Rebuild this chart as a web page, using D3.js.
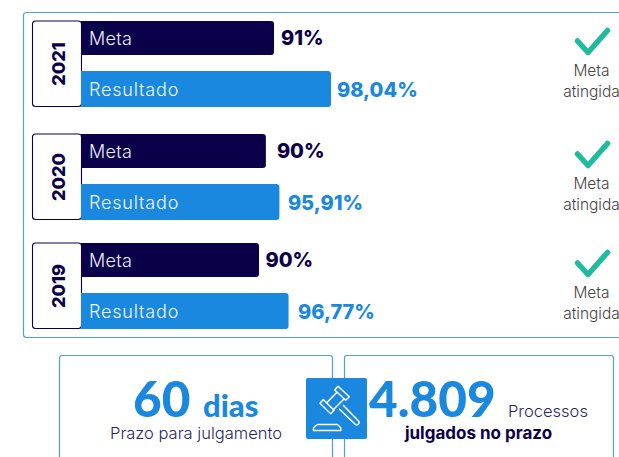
<!DOCTYPE html>
<html><head><meta charset="utf-8">
<script src="https://cdn.jsdelivr.net/npm/d3@7/dist/d3.min.js"></script>
<style>html,body{margin:0;padding:0;background:#fff;overflow:hidden}svg{display:block}text{font-family:Inter,"Open Sans",sans-serif}</style>
</head><body><svg id="c" width="619" height="457"></svg>
<script>
const years = ["2021","2020","2019"];
const metaLabels = ["91%","90%","90%"];
const resultLabels = ["98,04%","95,91%","96,77%"];
// Bar lengths, 0-100 scale: the source bars are not proportional to their labels.
const metaBars = [75.7,72.5,69.8];
const resultBars = [98.04,77.8,81.4];
const statusLines = ["Meta","atingida"];
const seriesNames = ["Meta","Resultado"];

const NAVY="#0a0049", BLUE="#1a88de", FRAME="#4f9fe0", GREEN="#1fbb9e";
const svg=d3.select("#c");
const x=d3.scaleLinear().domain([0,100]).range([81,336]);
const y=d3.scaleOrdinal().domain(years).range([21,134,243]);
// label gaps after each bar end, per row
const metaGap=d3.scaleOrdinal().domain(years).range([7,11,6.5]);
const resGap=d3.scaleOrdinal().domain(years).range([6,8.5,9.5]);

svg.append("rect").attr("x",23.5).attr("y",12.5).attr("width",640).attr("height",325).attr("rx",3).attr("fill","none").attr("stroke",FRAME).attr("stroke-width",1.2);

const rows=years.map((yr,i)=>({yr,meta:metaBars[i],res:resultBars[i],ml:metaLabels[i],rl:resultLabels[i]}));
const g=svg.selectAll("g.row").data(rows).join("g").attr("class","row").attr("transform",d=>`translate(0,${y(d.yr)})`);

g.append("rect").attr("x",32.5).attr("y",0).attr("width",49).attr("height",85.5).attr("rx",3).attr("fill","#fff").attr("stroke",NAVY).attr("stroke-width",1.1);
g.append("text").attr("transform","translate(65,43) rotate(-90)").attr("text-anchor","middle").attr("font-size",18).attr("font-weight",800).attr("fill",NAVY).text(d=>d.yr);

function bar(sel,w,h,fill){
  sel.append("path").attr("fill",fill).attr("d",d=>{
    const a=x(0),b=x(w(d)),r=3;
    return `M${a},0H${b-r}Q${b},0 ${b},${r}V${h-r}Q${b},${h} ${b-r},${h}H${a}Z`;
  });
}
const mg=g.append("g");
bar(mg,d=>d.meta,34,NAVY);
mg.append("text").attr("x",89).attr("y",24).attr("font-size",18).attr("font-weight",300).attr("letter-spacing",0.3).attr("fill","#eeeef8").text(seriesNames[0]);
mg.append("text").attr("x",d=>x(d.meta)+metaGap(d.yr)).attr("y",24).attr("font-size",20).attr("font-weight",800).attr("fill",NAVY).text(d=>d.ml);

const rg=g.append("g").attr("transform","translate(0,50)");
bar(rg,d=>d.res,36,BLUE);
rg.append("text").attr("x",89).attr("y",25).attr("font-size",18).attr("font-weight",300).attr("letter-spacing",0.8).attr("fill","#f0f7fd").text(seriesNames[1]);
rg.append("text").attr("x",d=>x(d.res)+resGap(d.yr)).attr("y",26).attr("font-size",20).attr("font-weight",800).attr("fill",BLUE).text(d=>d.rl);

g.append("path").attr("d","M577.5,20L588,31.5L607.5,9.5").attr("fill","none").attr("stroke",GREEN).attr("stroke-width",5.5).attr("stroke-linecap","round").attr("stroke-linejoin","round");
statusLines.forEach((t,i)=>g.append("text").attr("x",591.5).attr("y",55+i*21).attr("text-anchor","middle").attr("font-size",15.5).attr("font-weight",300).attr("fill","#444").text(t));

// bottom cards
svg.append("path").attr("d","M59.5,460V358Q59.5,355.5 62,355.5H330Q332.5,355.5 332.5,358V460").attr("fill","none").attr("stroke",FRAME).attr("stroke-width",1.2);
svg.append("path").attr("d","M344.5,460V358Q344.5,355.5 347,355.5H611Q613.5,355.5 613.5,358V460").attr("fill","none").attr("stroke",FRAME).attr("stroke-width",1.2);

const T=(x,y,s,fs,w,fill,anchor,ff)=>{const t=svg.append("text").attr("x",x).attr("y",y).attr("font-size",fs).attr("font-weight",w).attr("fill",fill).attr("text-anchor",anchor||"start").text(s); if(ff) t.style("font-family",ff); return t;};
T(133,417,"60",49.5,900,BLUE,"start","Lato");
T(203,417,"dias",31,900,BLUE,"start","Lato");
T(196,439,"Prazo para julgamento",16.5,300,"#2a2560","middle");
T(369,417,"4.809",49.5,900,BLUE,"start","Lato");
T(508,417,"Processos",16.5,300,"#2a2560");
T(478.5,439,"julgados no prazo",17,700,NAVY,"middle");

// gavel icon
svg.append("rect").attr("x",306).attr("y",378).attr("width",61).attr("height",61).attr("rx",2).attr("fill",BLUE);
const ic=svg.append("g").attr("fill","none").attr("stroke","#fff").attr("stroke-width",1.5).attr("stroke-linejoin","round").attr("stroke-linecap","round");
ic.append("path").attr("d","M334.7,390L338,386.3L349.3,396.7L345.7,400.3Z");
ic.append("path").attr("d","M320,403.3L323.3,399.5L334,410.3L330.7,413.7Z");
ic.append("path").attr("d","M336.7,392.5L326.5,403M344,399L333,410");
ic.append("path").attr("d","M343.3,405.3L359,421.5Q359.5,423 358.5,424Q357,425.5 355.5,424.5L339.5,409.3");
ic.append("path").attr("d","M317.5,424.5H337Q338,424.5 339,426L340.8,428V430.5H313.5V428L316,425.5Z");
</script></body></html>
